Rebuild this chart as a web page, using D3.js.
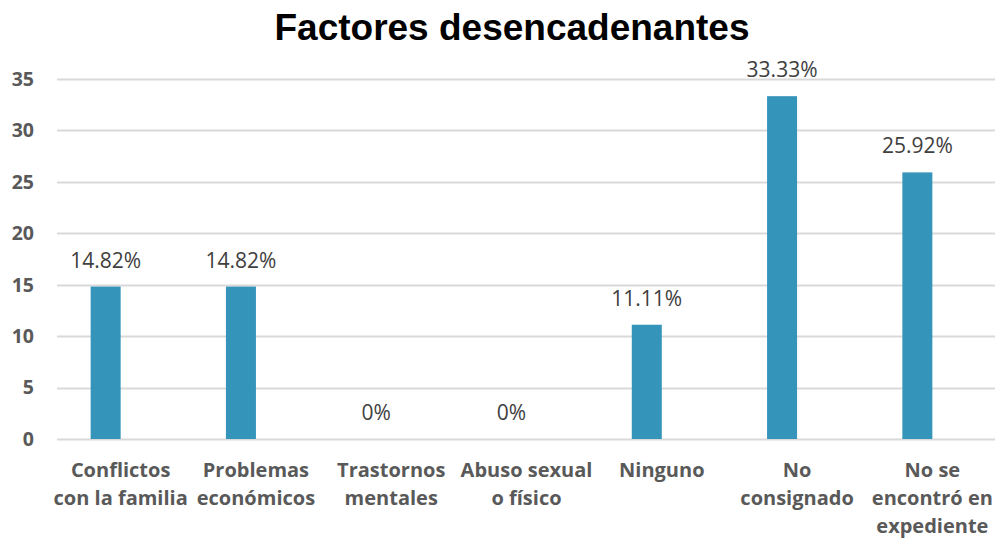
<!DOCTYPE html>
<html>
<head>
<meta charset="utf-8">
<script src="https://cdn.jsdelivr.net/npm/d3@7"></script>
<style>
  body { margin: 0; background: #fff; }
  svg { display: block; }
</style>
</head>
<body>
<svg id="chart" width="995" height="542"></svg>
<script>
// data
var categories = [
  ["Conflictos", "con la familia"],
  ["Problemas", "económicos"],
  ["Trastornos", "mentales"],
  ["Abuso sexual", "o físico"],
  ["Ninguno"],
  ["No", "consignado"],
  ["No se", "encontró en", "expediente"]
];
var values = [14.82, 14.82, 0, 0, 11.11, 33.33, 25.92];
var valueLabels = ["14.82%", "14.82%", "0%", "0%", "11.11%", "33.33%", "25.92%"];
var yTicks = [0, 5, 10, 15, 20, 25, 30, 35];

var svg = d3.select("svg#chart");
var width = 995, height = 542;
var margin = {top: 79, left: 57, bottom: 103, right: 0};

// category bands (bars sit left of band centre, like an Excel cluster)
var x = d3.scaleBand()
  .domain(d3.range(categories.length))
  .range([53, 1000]);

var y = d3.scaleLinear()
  .domain([0, 35])
  .range([height - margin.bottom, margin.top]);

var barW = 30;
function barCenter(i) { return x(i) + x.bandwidth() / 2 - 15; }

// title
svg.append("text")
  .attr("x", 512)
  .attr("y", 40)
  .attr("text-anchor", "middle")
  .attr("font-family", "Liberation Sans, Arial, sans-serif")
  .attr("font-weight", "bold")
  .attr("font-size", 37)
  .attr("fill", "#000")
  .text("Factores desencadenantes");

// gridlines
svg.append("g")
  .selectAll("line")
  .data(yTicks)
  .join("line")
  .attr("x1", margin.left)
  .attr("x2", width)
  .attr("y1", d => Math.round(y(d)) + 0.5)
  .attr("y2", d => Math.round(y(d)) + 0.5)
  .attr("stroke", "#d9d9d9")
  .attr("stroke-width", 2);

// y axis labels
svg.append("g")
  .selectAll("text")
  .data(yTicks)
  .join("text")
  .attr("x", 34)
  .attr("y", d => y(d))
  .attr("dy", "0.35em")
  .attr("text-anchor", "end")
  .attr("font-family", "Open Sans, sans-serif")
  .attr("font-weight", "bold")
  .attr("font-size", 19.5)
  .attr("fill", "#595959")
  .text(d => d);

// bars
svg.append("g")
  .selectAll("rect")
  .data(values)
  .join("rect")
  .attr("x", (d, i) => barCenter(i) - barW / 2)
  .attr("y", d => y(d))
  .attr("width", barW)
  .attr("height", d => y(0) - y(d))
  .attr("fill", "#3494ba");

// value labels
svg.append("g")
  .selectAll("text")
  .data(values)
  .join("text")
  .attr("x", (d, i) => barCenter(i))
  .attr("y", d => y(d) - 19)
  .attr("text-anchor", "middle")
  .attr("font-family", "Open Sans, sans-serif")
  .attr("font-size", 21)
  .attr("fill", "#404040")
  .text((d, i) => valueLabels[i]);

// category labels
var cat = svg.append("g")
  .selectAll("text")
  .data(categories)
  .join("text")
  .attr("x", (d, i) => x(i) + x.bandwidth() / 2)
  .attr("y", 477)
  .attr("text-anchor", "middle")
  .attr("font-family", "Open Sans, sans-serif")
  .attr("font-weight", "bold")
  .attr("font-size", 20)
  .attr("fill", "#595959");

cat.selectAll("tspan")
  .data((d, i) => d.map(t => ({t: t, i: i})))
  .join("tspan")
  .attr("x", d => x(d.i) + x.bandwidth() / 2)
  .attr("dy", (d, j) => j === 0 ? 0 : 28)
  .text(d => d.t);
</script>
</body>
</html>
